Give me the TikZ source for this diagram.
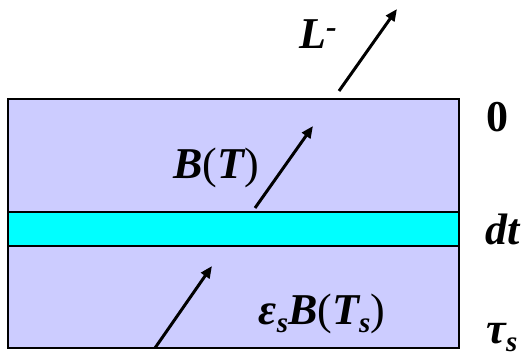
\documentclass[tikz,border=0pt]{standalone}
\usepackage{fontspec}
\setmainfont{Liberation Serif}
\usetikzlibrary{arrows.meta}
\definecolor{lav}{RGB}{204,204,255}
\definecolor{cyanband}{RGB}{0,255,255}
\tikzset{
  layer/.style={draw=black, line width=1.3pt},
  flux/.style={line width=3pt, -{Triangle[length=12pt,width=10pt]}},
  lbl/.style={inner sep=0pt, font=\fontsize{44}{44}\selectfont\bfseries\itshape},
  side/.style={inner sep=0pt, font=\fontsize{44}{44}\selectfont\bfseries}
}
\newcommand{\subS}[1]{\raisebox{-8pt}{\fontsize{29}{29}\selectfont\bfseries\itshape #1}}
\newcommand{\pl}{{\upshape\mdseries(}}
\newcommand{\pr}{{\upshape\mdseries)}}
\begin{document}
\begin{tikzpicture}[x=1pt,y=-1pt]
\useasboundingbox (0,0) rectangle (525,358);
\fill[white] (0,0) rectangle (525,358);
% layers
\filldraw[layer, fill=lav] (8,99) rectangle (459,348);
\filldraw[layer, fill=cyanband] (8,212) rectangle (459,246);
% arrow anchors
\coordinate (a1) at (339,91);
\coordinate (b1) at (397,9);
\coordinate (a2) at (255,208);
\coordinate (b2) at (313,126);
\coordinate (a3) at (155,348);
\coordinate (b3) at (212,266);
\draw[flux] (a1) -- (b1);
\draw[flux] (a2) -- (b2);
\draw[flux] (a3) -- (b3);
% labels
\node[lbl] (L) at (318,34) {L\raisebox{11pt}{\fontsize{32}{32}\selectfont -}};
\node[lbl] (BT) at (216,168) {B\pl T\pr};
\node[lbl] (eB) at (322,314) {ε\subS{s}B\pl T\subS{s}\pr};
\node[side] (zero) at (497,117) {0};
\node[lbl] (dt) at (503,229) {dt};
\node[lbl] (tau) at (502,338) {τ\subS{s}};
\end{tikzpicture}
\end{document}
